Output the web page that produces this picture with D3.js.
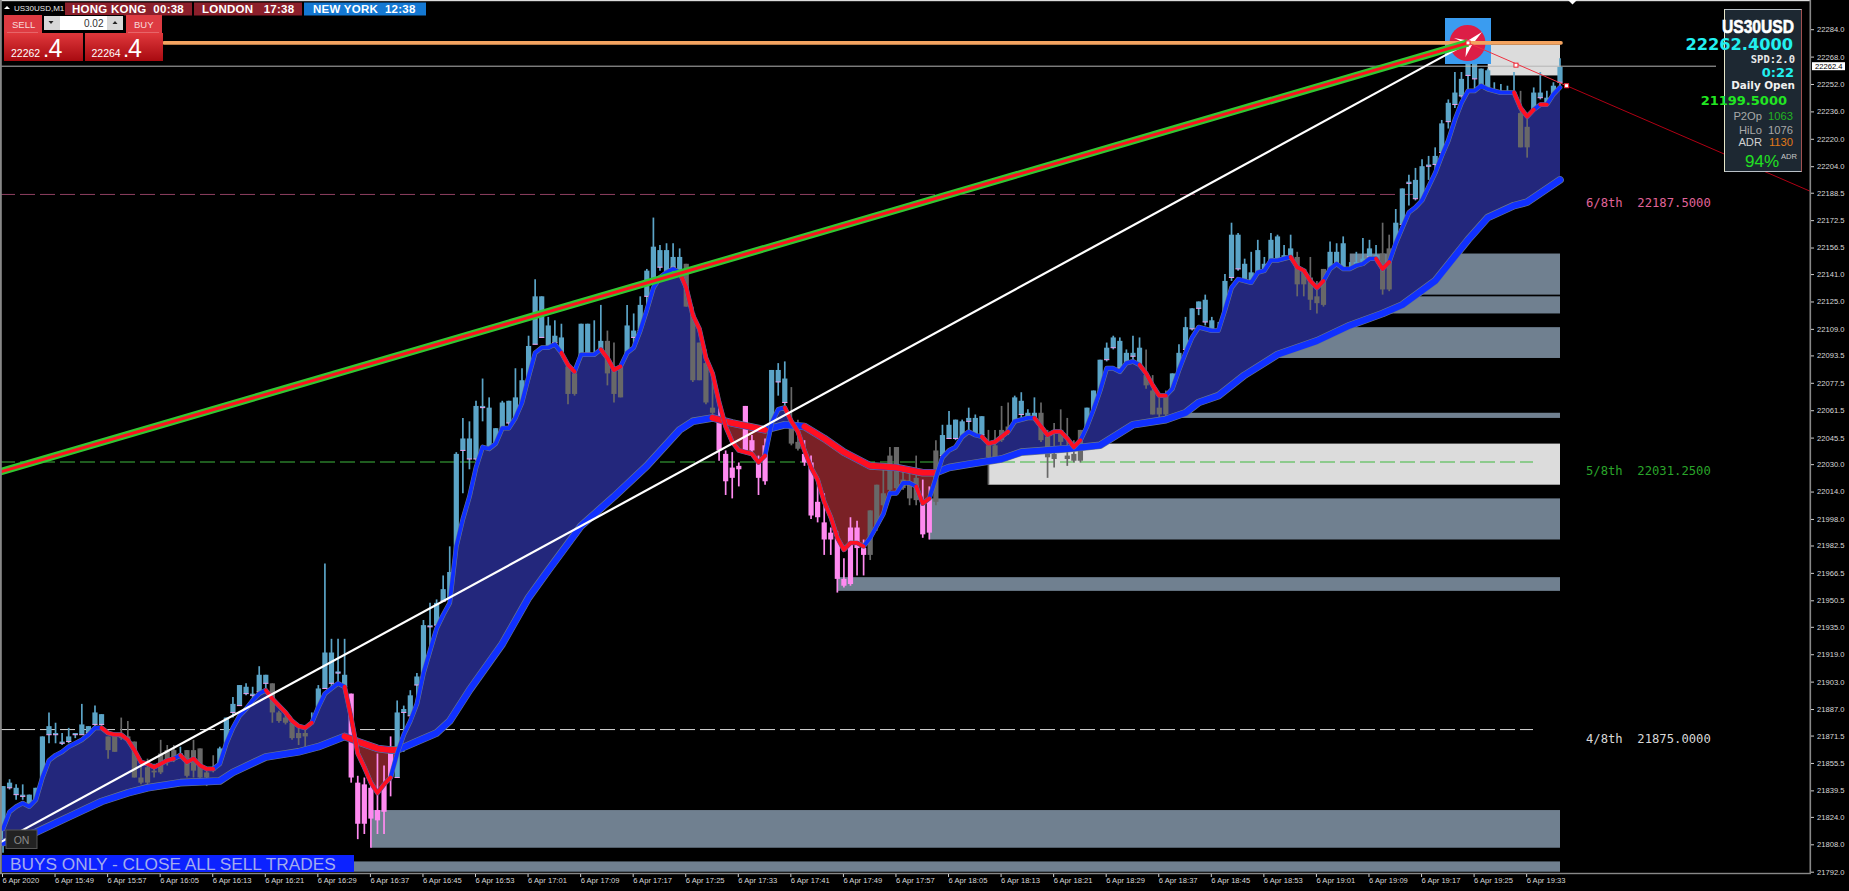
<!DOCTYPE html>
<html><head><meta charset="utf-8"><title>US30USD,M1</title>
<script src="https://cdn.jsdelivr.net/npm/d3@7/dist/d3.min.js"></script>
<style>html,body{margin:0;padding:0;background:#000;overflow:hidden}svg{display:block}text{white-space:pre}</style>
</head><body><svg id="c" width="1849" height="891"></svg>
<script>
const highs=[21842,21846,21843,21843,21837,21841,21871,21885,21879,21873,21876,21873,21890,21877,21889,21884,21871,21873,21882,21880,21868,21855,21858,21855,21869,21866,21866,21865,21863,21869,21864,21851,21860,21865,21882,21894,21901,21902,21900,21912,21907,21902,21886,21886,21879,21876,21875,21885,21901,21972,21928,21928,21928,21896,21848,21847,21845,21861,21854,21871,21892,21889,21898,21908,21939,21949,21951,21965,21982,22037,22057,22055,22067,22080,22069,22051,22067,22067,22086,22086,22105,22138,22128,22116,22114,22112,22087,22083,22112,22112,22114,22123,22108,22101,22087,22123,22118,22128,22144,22174,22158,22159,22159,22156,22147,22122,22101,22097,22079,22067,22038,22037,22031,22064,22047,22035,22045,22085,22089,22090,22075,22056,22044,22035,22022,22013,21993,21991,21975,21999,21997,21986,22003,22018,22027,22040,22040,22027,22028,22035,22021,22017,22044,22053,22061,22056,22056,22063,22059,22058,22050,22050,22064,22066,22070,22072,22062,22069,22066,22050,22054,22062,22057,22044,22050,22063,22073,22091,22101,22105,22104,22097,22105,22104,22097,22082,22070,22073,22083,22100,22116,22121,22125,22129,22116,22113,22141,22171,22165,22150,22154,22161,22151,22165,22164,22158,22164,22154,22144,22151,22137,22144,22160,22159,22163,22148,22154,22162,22161,22158,22171,22164,22179,22191,22199,22203,22208,22210,22215,22231,22243,22259,22259,22275,22271,22261,22261,22253,22252,22251,22259,22248,22232,22250,22259,22248,22253,22267];
const lows=[21803,21840,21834,21834,21821,21824,21830,21867,21867,21866,21867,21870,21872,21872,21877,21863,21858,21862,21869,21868,21847,21843,21843,21847,21849,21854,21856,21859,21847,21847,21846,21842,21850,21853,21855,21882,21889,21895,21889,21897,21898,21879,21879,21878,21869,21866,21865,21868,21879,21899,21870,21901,21898,21844,21811,21814,21806,21814,21814,21836,21847,21862,21883,21892,21904,21920,21936,21950,21951,21964,22013,22027,22032,22055,22035,22025,22028,22041,22054,22058,22074,22100,22104,22090,22097,22080,22065,22070,22069,22086,22086,22079,22076,22066,22069,22090,22090,22100,22115,22137,22143,22139,22143,22135,22122,22078,22079,22065,22059,22032,22012,22010,22017,22038,22035,22012,22018,22050,22070,22064,22041,22038,22029,21998,21996,21977,21977,21955,21958,21959,21965,21965,21974,21991,22000,22012,22015,22015,22006,22006,21987,21986,22006,22032,22045,22044,22041,22042,22046,22040,22018,22033,22043,22047,22049,22057,22047,22056,22043,22022,22028,22041,22029,22031,22031,22049,22056,22070,22090,22097,22085,22073,22082,22079,22074,22059,22057,22057,22069,22072,22095,22108,22117,22111,22099,22092,22109,22137,22143,22129,22132,22132,22136,22137,22143,22143,22150,22128,22128,22120,22118,22122,22137,22143,22137,22128,22137,22139,22139,22131,22129,22131,22148,22168,22181,22184,22181,22196,22201,22210,22226,22238,22244,22245,22247,22241,22236,22237,22238,22237,22241,22215,22209,22226,22243,22226,22236,22251];
const opens=[21809,21841,21837,21836,21826,21827,21830,21872,21872,21867,21868,21872,21872,21873,21878,21878,21863,21862,21870,21869,21847,21844,21844,21850,21850,21856,21858,21860,21848,21851,21847,21847,21851,21853,21859,21885,21889,21896,21895,21897,21902,21885,21880,21879,21870,21870,21871,21873,21879,21899,21902,21908,21900,21847,21820,21820,21823,21822,21827,21847,21847,21885,21883,21901,21906,21935,21936,21950,21951,21964,22038,22033,22033,22063,22035,22034,22051,22054,22054,22059,22076,22100,22104,22097,22101,22089,22071,22071,22083,22095,22092,22086,22083,22071,22069,22091,22104,22108,22128,22137,22145,22142,22145,22142,22122,22079,22079,22066,22060,22038,22020,22022,22027,22038,22038,22022,22020,22052,22078,22066,22042,22039,22031,22000,21999,21986,21986,21963,21959,21960,21981,21977,21977,21994,22006,22015,22016,22016,22010,22009,21989,21990,22008,22035,22045,22045,22044,22055,22047,22047,22034,22034,22044,22049,22050,22059,22057,22057,22044,22034,22033,22043,22033,22032,22032,22050,22057,22071,22091,22098,22086,22082,22093,22081,22076,22059,22059,22059,22069,22073,22097,22109,22121,22113,22101,22104,22110,22139,22144,22137,22136,22133,22143,22143,22148,22149,22151,22135,22135,22126,22124,22123,22139,22147,22139,22137,22146,22146,22151,22132,22132,22132,22149,22170,22194,22185,22182,22204,22205,22212,22230,22240,22245,22257,22255,22244,22244,22244,22244,22244,22246,22215,22215,22227,22244,22238,22237,22253];
const closes=[21842,21844,21841,21837,21837,21841,21871,21877,21873,21868,21871,21873,21878,21877,21885,21884,21871,21871,21872,21871,21868,21847,21853,21851,21861,21863,21863,21861,21863,21863,21864,21850,21853,21864,21882,21890,21901,21900,21896,21907,21907,21902,21885,21882,21879,21873,21873,21878,21899,21920,21920,21909,21907,21896,21844,21843,21841,21828,21843,21863,21885,21887,21895,21906,21936,21936,21949,21957,21967,22036,22045,22045,22064,22064,22063,22051,22066,22067,22069,22079,22099,22128,22128,22111,22105,22104,22087,22083,22112,22112,22094,22102,22102,22087,22087,22111,22108,22123,22143,22157,22155,22155,22151,22151,22147,22118,22101,22089,22063,22057,22036,22028,22029,22064,22044,22031,22041,22085,22085,22080,22055,22043,22036,22031,22008,21996,21990,21987,21963,21993,21993,21981,22003,22018,22013,22035,22040,22021,22019,22022,22007,22010,22038,22047,22053,22056,22055,22057,22057,22058,22041,22041,22050,22052,22069,22067,22060,22060,22060,22046,22036,22050,22035,22036,22050,22063,22073,22091,22098,22104,22102,22095,22095,22098,22082,22073,22063,22070,22083,22095,22110,22121,22125,22126,22114,22108,22137,22164,22164,22147,22142,22155,22147,22161,22163,22152,22156,22151,22144,22139,22128,22144,22154,22154,22159,22143,22148,22150,22156,22152,22153,22156,22171,22191,22195,22196,22204,22205,22210,22229,22241,22247,22255,22267,22269,22261,22260,22245,22245,22245,22247,22235,22227,22247,22247,22244,22251,22262];
const fastMA=[21817,21827,21830,21832,21830,21834,21847,21857,21860,21862,21865,21867,21869,21872,21876,21876,21873,21872,21872,21869,21863,21856,21855,21853,21855,21857,21858,21860,21856,21858,21854,21852,21852,21855,21867,21876,21883,21887,21892,21896,21898,21893,21889,21885,21880,21877,21876,21879,21888,21896,21899,21902,21900,21882,21861,21853,21844,21838,21843,21847,21861,21872,21880,21890,21908,21921,21934,21942,21949,21982,21998,22011,22028,22040,22039,22042,22051,22051,22057,22066,22081,22095,22098,22098,22100,22095,22088,22084,22094,22094,22094,22097,22092,22085,22087,22095,22098,22108,22120,22133,22139,22142,22144,22142,22133,22117,22109,22092,22083,22066,22052,22043,22038,22037,22036,22031,22035,22054,22062,22063,22055,22049,22038,22028,22021,22008,21999,21987,21980,21984,21984,21982,21987,21994,22001,22013,22013,22019,22019,22017,22007,22010,22022,22034,22038,22040,22046,22049,22047,22046,22042,22043,22046,22049,22055,22056,22057,22057,22052,22047,22049,22049,22045,22040,22044,22052,22062,22073,22086,22086,22084,22089,22090,22088,22083,22076,22070,22070,22074,22085,22095,22104,22110,22109,22108,22108,22120,22133,22138,22137,22136,22142,22143,22149,22149,22150,22151,22145,22143,22137,22133,22137,22144,22147,22144,22144,22146,22147,22150,22150,22144,22148,22159,22168,22177,22180,22184,22192,22200,22210,22219,22231,22241,22248,22248,22251,22249,22248,22247,22247,22247,22238,22233,22237,22240,22240,22246,22250];
const slowIdx=[0,5,10,15,19,22,27,33,35,40,45,48,52,54,57,59,60,63,66,68,71,76,80,83,88,93,98,103,105,108,111,116,119,122,125,128,132,136,140,142,144,147,152,155,162,167,172,177,180,182,185,189,194,200,205,210,213,218,223,226,230,232,237];
const slowMA=[21809,21815,21824,21833,21838,21841,21844,21845,21850,21859,21862,21865,21871,21868,21864,21863,21863,21868,21873,21880,21898,21925,21952,21968,21994,22011,22029,22050,22055,22057,22054,22050,22053,22052,22045,22037,22029,22028,22025,22025,22028,22030,22033,22037,22039,22041,22053,22056,22060,22066,22070,22082,22094,22102,22111,22118,22123,22137,22161,22174,22181,22183,22196];
const grayRuns=[[16,26],[28,32],[41,46],[86,87],[92,94],[104,108],[120,121],[132,139],[142,142],[150,153],[158,164],[174,177],[197,201],[210,211],[231,232]];
const pinkRuns=[[53,59],[109,116],[122,131],[140,141]];
const fastRedRuns=[[15,26],[27,32],[40,47],[52,59],[85,87],[91,94],[103,116],[119,131],[139,141],[149,153],[157,164],[173,177],[196,201],[209,211],[230,233],[234,235]];
const slowRedRuns=[[52,60],[108,116],[120,142]];
const cloudRedRuns=[[53.6,60.2],[109.7,116.8],[120.3,142.2]];
const cloudBlueRuns=[[0,53.6],[60.2,109.7],[116.8,120.3],[142.2,237.5]];
const zoneStart=[226,205,205,190,170,150,141,127,56,50];
const zoneTop=[22275,22153,22128,22110,22060,22042,22010,21964,21828,21798];
const zoneBottom=[22257,22129,22118,22092,22057,22018,21986,21956,21806,21792];
const zoneKind=["light","slate","slate","slate","slate","light","slate","slate","slate","slate"];
const yTicks=[22284,22268,22252,22236,22220,22204,22188.5,22172.5,22156.5,22141,22125,22109,22093.5,22077.5,22061.5,22045.5,22030,22014,21998,21982.5,21966.5,21950.5,21935,21919,21903,21887,21871.5,21855.5,21839.5,21824,21808,21792];
const xTickIdx=[0,8,16,24,32,40,48,56,64,72,80,88,96,104,112,120,128,136,144,152,160,168,176,184,192,200,208,216,224,232];
const xTickLabels=["6 Apr 2020","6 Apr 15:49","6 Apr 15:57","6 Apr 16:05","6 Apr 16:13","6 Apr 16:21","6 Apr 16:29","6 Apr 16:37","6 Apr 16:45","6 Apr 16:53","6 Apr 17:01","6 Apr 17:09","6 Apr 17:17","6 Apr 17:25","6 Apr 17:33","6 Apr 17:41","6 Apr 17:49","6 Apr 17:57","6 Apr 18:05","6 Apr 18:13","6 Apr 18:21","6 Apr 18:29","6 Apr 18:37","6 Apr 18:45","6 Apr 18:53","6 Apr 19:01","6 Apr 19:09","6 Apr 19:17","6 Apr 19:25","6 Apr 19:33"];
const levelPrices=[22187.5,22031.25,21875];
const levelNames=["6/8th  22187.5000","5/8th  22031.2500","4/8th  21875.0000"];
const levelColors=["#8e3f60","#3fb83f","#d8d8d8"];
const levelTextColors=["#e0649a","#2aa52a","#d8d8d8"];
const bidPrice=22262.4;
const orangePrice=22276;

const svg=d3.select("#c");
const x=d3.scaleLinear().domain([0,237]).range([3,1560]);
const y=d3.scaleLinear().domain([21792,22284]).range([871.7,29.2]);
const inRuns=(i,r)=>r.some(a=>i>=a[0]&&i<=a[1]);
const stateOf=i=>inRuns(i,grayRuns)?"g":inRuns(i,pinkRuns)?"p":"b";
const cCol={b:"#5ba4c7",g:"#686868",p:"#ff8af0"};
const BLUE="#1030ff",RED="#ff1020",HALO="#6d7a8c";
const defs=svg.append("defs");
svg.append("rect").attr("width",1849).attr("height",891).attr("fill","#000");

svg.append("g").selectAll("rect").data(zoneStart).join("rect")
 .attr("x",d=>x(d)).attr("width",d=>x(237)-x(d))
 .attr("y",(d,i)=>y(zoneTop[i])).attr("height",(d,i)=>y(zoneBottom[i])-y(zoneTop[i]))
 .attr("fill",(d,i)=>zoneKind[i]==="light"?"#dcdcdc":"#708090");

svg.append("g").selectAll("line").data(levelPrices).join("line")
 .attr("x1",0).attr("x2",1533).attr("y1",d=>y(d)).attr("y2",d=>y(d))
 .attr("stroke",(d,i)=>levelColors[i]).attr("stroke-width",1).attr("stroke-dasharray","15,5");

const idx=d3.range(closes.length);
function drawCandles(g,list){
 g.selectAll("line.w").data(list).join("line").attr("class","w")
  .attr("x1",x).attr("x2",x).attr("y1",i=>y(highs[i])).attr("y2",i=>y(lows[i]))
  .attr("stroke",i=>cCol[stateOf(i)]).attr("stroke-width",1.7);
 g.selectAll("rect.b").data(list).join("rect").attr("class","b")
  .attr("x",i=>x(i)-2.6).attr("width",5.2)
  .attr("y",i=>y(closes[i])).attr("height",i=>Math.max(1,y(opens[i])-y(closes[i])))
  .attr("fill",i=>cCol[stateOf(i)]);
}
const gBlue=svg.append("g");
drawCandles(gBlue,idx.filter(i=>stateOf(i)==="b"));
gBlue.selectAll("line.m").data(idx.filter(i=>stateOf(i)==="b")).join("line").attr("class","m")
 .attr("x1",i=>x(i)-2.6).attr("x2",i=>x(i)+2.6).attr("y1",i=>y(opens[i])).attr("y2",i=>y(opens[i]))
 .attr("stroke","#f0a0ee").attr("stroke-width",1);

const fastPts=idx.map(i=>[x(i),y(fastMA[i])]);
const slowPts=slowIdx.map((d,i)=>[x(d),y(slowMA[i])]);
const lineGen=d3.line();
const cloudPath=lineGen(fastPts.concat(slowPts.slice().reverse()))+"Z";
function cloud(runs,id,color){
 const cp=defs.append("clipPath").attr("id",id);
 runs.forEach(r=>cp.append("rect").attr("x",x(r[0])).attr("width",x(r[1])-x(r[0])).attr("y",0).attr("height",891));
 svg.append("path").attr("d",cloudPath).attr("fill",color).attr("clip-path",`url(#${id})`);
}
cloud(cloudBlueRuns,"cb","#23277c");
cloud(cloudRedRuns,"cr","#7a2126");

drawCandles(svg.append("g"),idx.filter(i=>stateOf(i)!=="b"));

const lg=svg.append("g").attr("fill","none").attr("stroke-linejoin","round").attr("stroke-linecap","round");
lg.append("path").attr("d",lineGen(slowPts)).attr("stroke",HALO).attr("stroke-width",7.6);
lg.append("path").attr("d",lineGen(slowPts)).attr("stroke",BLUE).attr("stroke-width",6.4);
slowRedRuns.forEach(r=>{
 const pts=slowIdx.map((d,i)=>[d,slowMA[i]]).filter(p=>p[0]>=r[0]&&p[0]<=r[1]).map(p=>[x(p[0]),y(p[1])]);
 lg.append("path").attr("d",lineGen(pts)).attr("stroke",RED).attr("stroke-width",6);
});
lg.append("path").attr("d",lineGen(fastPts)).attr("stroke",HALO).attr("stroke-width",4.8);
lg.append("path").attr("d",lineGen(fastPts)).attr("stroke",BLUE).attr("stroke-width",3.8);
fastRedRuns.forEach(r=>{
 lg.append("path").attr("d",lineGen(fastPts.slice(r[0],r[1]+1))).attr("stroke",RED).attr("stroke-width",3.8);
});

svg.append("line").attr("x1",0).attr("x2",1716).attr("y1",y(bidPrice)).attr("y2",y(bidPrice)).attr("stroke","#b4b4b4").attr("stroke-width",1);

const lg2=svg.append("g");
lg2.append("rect").attr("x",1445).attr("y",18).attr("width",46).attr("height",46).attr("fill","#3a9cf0");
lg2.append("circle").attr("cx",1467.5).attr("cy",43).attr("r",18).attr("fill","#dc1e46");
lg2.append("polygon").attr("points","1482,32 1472,45 1465.5,57 1466.5,44 1454,38 1468,40.5").attr("fill","#fff");
svg.append("line").attr("x1",164).attr("x2",1561).attr("y1",y(orangePrice)).attr("y2",y(orangePrice)).attr("stroke","#f4a460").attr("stroke-width",3.6).attr("stroke-linecap","round");

const tEnd=[223,22276];
const seg=(a,b,c,w)=>svg.append("line").attr("x1",x(a[0])).attr("y1",y(a[1])).attr("x2",x(b[0])).attr("y2",y(b[1])).attr("stroke",c).attr("stroke-width",w);
seg([-0.5,21809],tEnd,"#ffffff",2.2);
seg([-0.5,22025.4],tEnd,"#32c832",7.4);
seg([-0.5,22025.4],tEnd,"#ff1020",3);
seg(tEnd,[238,22251],"#f03040",1);
seg([238,22251],[275,22189.5],"#b00014",1);
[[223,22276],[230.3,22263],[238,22251]].forEach(p=>{
 svg.append("rect").attr("x",x(p[0])-2).attr("y",y(p[1])-2).attr("width",4).attr("height",4).attr("fill","#fff").attr("stroke","#f02030").attr("stroke-width",1);
});

svg.append("g").selectAll("text").data(levelNames).join("text")
 .attr("x",1586).attr("y",(d,i)=>y(levelPrices[i])+13).text(d=>d)
 .attr("fill",(d,i)=>levelTextColors[i]).attr("font-family","'DejaVu Sans Mono'").attr("font-size",12.2);

svg.append("rect").attr("x",0).attr("y",0).attr("width",1810).attr("height",1.2).attr("fill","#ddd");
svg.append("rect").attr("x",0).attr("y",0).attr("width",1.8).attr("height",873).attr("fill","#888");
svg.append("rect").attr("x",1809.5).attr("y",0).attr("width",1.6).attr("height",873).attr("fill","#888");
svg.append("rect").attr("x",0).attr("y",872.8).attr("width",1811).attr("height",1.4).attr("fill","#888");
svg.append("polygon").attr("points","1568,0 1577,0 1572.5,4.5").attr("fill","#fff");
const yAxis=d3.axisRight(y).tickValues(yTicks).tickFormat(d=>d.toFixed(1)).tickSize(3).tickPadding(3);
const gy=svg.append("g").attr("transform","translate(1811,0)").call(yAxis);
gy.select(".domain").remove();
gy.selectAll("line").attr("stroke","#ccc");
gy.selectAll("text").attr("fill","#d8d8d8").attr("font-family","'Liberation Sans'").attr("font-size",7.6);
const xAxis=d3.axisBottom(x).tickValues(xTickIdx).tickFormat((d,i)=>xTickLabels[i]).tickSize(3).tickPadding(1);
const gx=svg.append("g").attr("transform","translate(-1,874)").call(xAxis);
gx.select(".domain").remove();
gx.selectAll("line").attr("stroke","#ccc");
gx.selectAll("text").attr("text-anchor","start").attr("fill","#d8d8d8").attr("font-family","'Liberation Sans'").attr("font-size",7.6);
svg.append("rect").attr("x",1812).attr("y",y(bidPrice)-4).attr("width",33).attr("height",8).attr("fill","#fff");
svg.append("text").attr("x",1815).attr("y",y(bidPrice)+2.7).text("22262.4").attr("fill","#000").attr("font-family","'Liberation Sans'").attr("font-size",7.6);

const T=(tx,ty,s,o={})=>svg.append("text").attr("x",tx).attr("y",ty).text(s)
 .attr("fill",o.c||"#fff").attr("font-family",o.f||"'Liberation Sans'").attr("font-size",o.s||10)
 .attr("font-weight",o.w||"normal").attr("text-anchor",o.a||"start");
const R=(rx,ry,w,h,c)=>svg.append("rect").attr("x",rx).attr("y",ry).attr("width",w).attr("height",h).attr("fill",c);

svg.append("polygon").attr("points","4,9 10,9 7,6").attr("fill","#fff");
T(14,10.5,"US30USD,M1",{s:8,c:"#e8e8e8"});
R(65,2.5,127,13,"#8b1f2b");R(194,2.5,108,13,"#8b1f2b");R(304,2.5,122,13,"#1478d2");
T(72,13.2,"HONG KONG  00:38",{s:11.5,w:"bold"}).attr("letter-spacing",0.25);
T(202,13.2,"LONDON   17:38",{s:11.5,w:"bold"}).attr("letter-spacing",0.25);
T(313,13.2,"NEW YORK  12:38",{s:11.5,w:"bold"}).attr("letter-spacing",0.25);
const gr=defs.append("linearGradient").attr("id","rg").attr("x1",0).attr("y1",0).attr("x2",0).attr("y2",1);
gr.append("stop").attr("offset",0).attr("stop-color","#e0383c");gr.append("stop").attr("offset",1).attr("stop-color","#a80a10");
R(4,15,38,19,"#de3b42");R(126,15,36,19,"#de3b42");
svg.append("line").attr("x1",7).attr("x2",38).attr("y1",33).attr("y2",33).attr("stroke","#f09090");
svg.append("line").attr("x1",128).attr("x2",159).attr("y1",33).attr("y2",33).attr("stroke","#f09090");
T(12,27.5,"SELL",{s:9.5,c:"#f8dcdc"});T(134,27.5,"BUY",{s:9.5,c:"#f8dcdc"});
R(43,15,81,17,"#000");R(44,16,16,14,"#d8d8d8");R(60,16,47,14,"#fff");R(107,16,16,14,"#d8d8d8");
T(103.5,27,"0.02",{s:10,a:"end",c:"#333"});
svg.append("polygon").attr("points","48.5,21 53.5,21 51,24").attr("fill","#222");
svg.append("polygon").attr("points","112.5,24 117.5,24 115,21").attr("fill","#222");
R(4,33,79,28,"url(#rg)");R(85,33,78,28,"url(#rg)");
T(11,56.5,"22262",{s:10.5});T(43,56.5,".",{s:22});T(48.5,57,"4",{s:25});
T(91.5,56.5,"22264",{s:10.5});T(123,56.5,".",{s:22});T(128,57,"4",{s:25});

R(6,830,31,18.5,"#222").attr("stroke","#555").attr("stroke-width",1);
T(21.5,843.5,"ON",{s:10.5,a:"middle",c:"#8a8a8a"});
R(2,855,352,17,"#0c22ff");
T(10,869.5,"BUYS ONLY - CLOSE ALL SELL TRADES",{s:17.25,c:"#a3acee"});

R(1724.5,9.5,77,162,"#1d2832");
svg.append("rect").attr("x",1724.5).attr("y",9.5).attr("width",77).attr("height",162).attr("fill","none").attr("stroke","#b9c0c6").attr("stroke-width",1);
svg.append("line").attr("x1",1724.5).attr("x2",1724.5).attr("y1",9.5).attr("y2",171.5).attr("stroke","#e6e6c8");
svg.append("line").attr("x1",1801.5).attr("x2",1801.5).attr("y1",9.5).attr("y2",171.5).attr("stroke","#a05050");
T(1794,33,"US30USD",{s:19,w:"bold",a:"end"}).attr("textLength",72).attr("lengthAdjust","spacingAndGlyphs").attr("stroke","#fff").attr("stroke-width",0.6);
const DB="'DejaVu Sans'";
T(1793,50,"22262.4000",{s:16.2,w:"bold",a:"end",f:DB,c:"#22f0f0"});
T(1795,63,"SPD:2.0",{s:10.5,w:"bold",a:"end",f:"'DejaVu Sans Mono'",c:"#e8e8e8"});
T(1794,77,"0:22",{s:13,w:"bold",a:"end",f:DB,c:"#22f0f0"});
T(1795,89,"Daily Open",{s:10.4,w:"bold",a:"end",f:DB,c:"#f0f0f0"});
T(1787,105,"21199.5000",{s:13,w:"bold",a:"end",f:DB,c:"#22e622"});
T(1762,120,"P2Op",{s:11.2,a:"end",c:"#a8a8a8"});T(1793,120,"1063",{s:11.2,a:"end",c:"#22b422"});
T(1762,134,"HiLo",{s:11.2,a:"end",c:"#a8a8a8"});T(1793,134,"1076",{s:11.2,a:"end",c:"#a8a8a8"});
T(1762,146,"ADR",{s:11.2,a:"end",c:"#d0d0d0"});T(1793,146,"1130",{s:11.2,a:"end",c:"#e07818"});
T(1745,167,"94%",{s:17,c:"#22e022"});T(1781,159,"ADR",{s:7.6,c:"#c8c8c8"});
</script></body></html>
